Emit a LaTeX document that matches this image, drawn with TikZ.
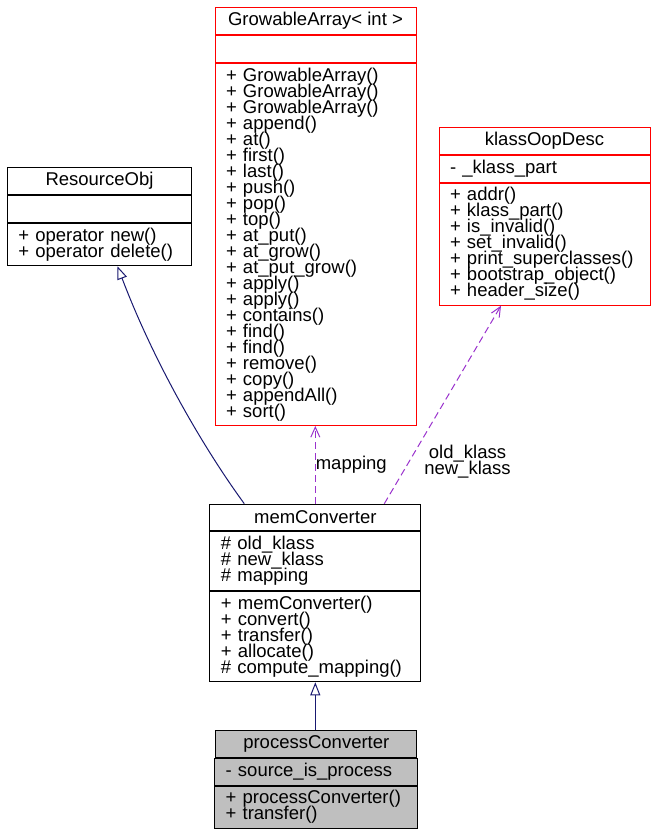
\documentclass[tikz,border=0pt]{standalone}
\usepackage{fontspec}
\setmainfont{Liberation Sans}
\usetikzlibrary{arrows.meta,positioning}
\definecolor{edgeblue}{HTML}{191970}
\definecolor{edgepurple}{HTML}{9A32CD}
\definecolor{classgray}{HTML}{BFBFBF}
\newcommand\umlfont{\fontsize{18.5}{16}\selectfont\lineskiplimit-20pt\relax}

\begin{document}
\begin{tikzpicture}
    [
    x=1pt, y=1pt,
    every node/.style={font=\umlfont, inner sep=0pt, line width=1pt},
    head/.style={draw, minimum height=26.7pt},
    part/.style={draw, align=left, inner xsep=11pt, inner ysep=0pt},
    inherit/.style={edgeblue, line width=1pt, -{Triangle[open, fill=white, length=13pt, width=10pt]}},
    usedby/.style={edgepurple, line width=1pt, dash pattern=on 7pt off 4pt, -{Straight Barb[length=10pt, width=9pt]}},
    edgelabel/.style={text=black}
    ]
    \useasboundingbox (0,0) rectangle (658,-834);
    % ResourceObj
    \node[head, minimum width=184.4pt, anchor=north] (res) at (99.5,-167.3) {ResourceObj};
    \node[part, text width=162.4pt, minimum height=26.7pt, below=0pt of res] (res-attr) {};
    \node[part, text width=162.4pt, minimum height=42.6pt, below=0pt of res-attr] (res-meth)
        {+ operator new()\\+ operator delete()};
    % GrowableArray< int >
    \node[head, draw=red, minimum width=201pt, anchor=north] (grow) at (315.5,-7.3) {GrowableArray< int >};
    \node[part, draw=red, text width=179pt, minimum height=27pt, below=0pt of grow] (grow-attr) {};
    \node[part, draw=red, text width=179pt, minimum height=362pt, below=0pt of grow-attr] (grow-meth)
        {+ GrowableArray()\\+ GrowableArray()\\+ GrowableArray()\\+ append()\\+ at()\\+ first()\\+ last()\\+ push()\\+ pop()\\+ top()\\+ at\_put()\\+ at\_grow()\\+ at\_put\_grow()\\+ apply()\\+ apply()\\+ contains()\\+ find()\\+ find()\\+ remove()\\+ copy()\\+ appendAll()\\+ sort()};
    % klassOopDesc
    \node[head, draw=red, minimum width=211pt, anchor=north] (klass) at (544.5,-127) {klassOopDesc};
    \node[part, draw=red, text width=189pt, minimum height=27pt, below=0pt of klass] (klass-attr) {- \_klass\_part};
    \node[part, draw=red, text width=189pt, minimum height=122pt, below=0pt of klass-attr] (klass-meth)
        {+ addr()\\+ klass\_part()\\+ is\_invalid()\\+ set\_invalid()\\+ print\_superclasses()\\+ bootstrap\_object()\\+ header\_size()};
    % memConverter
    \node[head, minimum width=210.7pt, minimum height=26.3pt, anchor=north] (mem) at (315.3,-503.7) {memConverter};
    \node[part, text width=188.7pt, minimum height=58.7pt, below=0pt of mem] (mem-attr)
        {\# old\_klass\\\# new\_klass\\\# mapping};
    \node[part, text width=188.7pt, minimum height=90.6pt, below=0pt of mem-attr] (mem-meth)
        {+ memConverter()\\+ convert()\\+ transfer()\\+ allocate()\\\# compute\_mapping()};
    % processConverter
    \node[head, fill=classgray, minimum width=201.3pt, anchor=north] (proc) at (316.3,-730.3) {processConverter};
    \node[part, fill=classgray, text width=181.3pt, minimum height=26.7pt, below=0pt of proc] (proc-attr)
        {- source\_is\_process};
    \node[part, fill=classgray, text width=181.3pt, minimum height=42pt, below=0pt of proc-attr] (proc-meth)
        {+ processConverter()\\+ transfer()};
    % edges
    \draw[inherit] ([xshift=-71pt]mem.north) .. controls (205,-450) and (155,-365) .. ([xshift=18pt]res-meth.south);
    \draw[usedby] (mem.north) -- (mem.north |- grow-meth.south) node[edgelabel, midway, right] {mapping};
    \draw[usedby] ([xshift=69pt]mem.north) -- ([xshift=-43.5pt]klass-meth.south)
        node[edgelabel, pos=0.21, right=15pt, align=center] {old\_klass\\new\_klass};
    \draw[inherit] (mem-meth.south |- proc.north) -- (mem-meth.south);
\end{tikzpicture}
\end{document}
